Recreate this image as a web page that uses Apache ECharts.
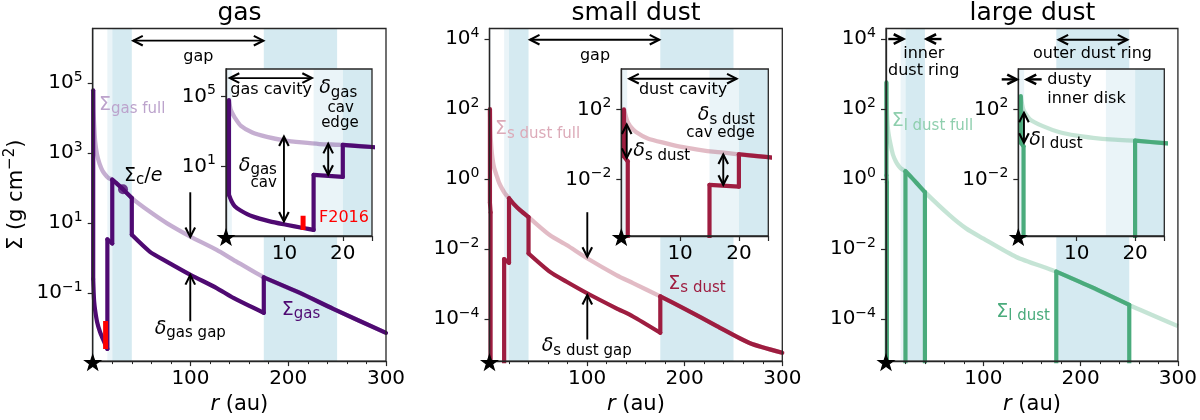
<!DOCTYPE html>
<html>
<head>
<meta charset="utf-8">
<script src="https://cdn.jsdelivr.net/npm/echarts@6.0.0/dist/echarts.min.js"></script>
<style>
html,body{margin:0;padding:0;background:#ffffff;}
#chart{width:1200px;height:420px;}
</style>
</head>
<body>
<div id="chart"></div>
<script>
// ---------------- data ----------------
// gas
const gasFullR   = [0.5, 0.8, 1.0, 1.5, 2.5, 4.5, 7, 10, 13, 16, 20, 25, 31, 40, 58.6, 75.7, 100, 126.8, 143.9, 175, 212, 246, 300];
const gasFullSig = [6.3e4, 1.8e4, 1.26e4, 6.3e3, 2.2e3, 890, 500, 316, 240, 195, 174, 132, 93, 52, 21, 10, 4.1, 1.7, 0.89, 0.28, 0.1, 0.035, 0.0072];
const gasR   = [0.5, 0.5, 1.0, 1.5, 2.5, 4.5, 7.5, 10.3, 13.2, 15, 15, 20, 20, 25, 31, 40, 40, 58.6, 75.7, 100, 126.8, 143.9, 175, 175, 212, 246, 300];
const gasSig = [6.3e4, 0.25, 0.1, 0.056, 0.032, 0.0148, 7.6e-3, 4.9e-3, 3.2e-3, 2.5e-3, 3.4, 2.6, 174, 132, 93, 52, 4.6, 1.5, 0.79, 0.33, 0.138, 0.072, 0.027, 0.28, 0.1, 0.035, 0.0072];
// small dust
const sdFullR   = [0.45, 1.0, 1.5, 2.5, 4.5, 7.5, 10, 13, 16, 20, 25, 31, 40, 62, 79, 100, 130, 147, 175, 199, 233, 267, 300];
const sdFullSig = [100, 22.4, 11.2, 5.2, 2.24, 1.2, 0.76, 0.52, 0.38, 0.28, 0.19, 0.13, 0.081, 0.0245, 0.0129, 5.4e-3, 1.78e-3, 1.05e-3, 4.4e-4, 2.0e-4, 6.2e-5, 2.0e-5, 1.07e-5];
const sdR   = [0.45, 0.45, 1.1, 1.1, 15, 15, 20, 20, 25, 31, 40, 40, 62, 79, 100, 130, 147, 175, 175, 199, 233, 267, 300];
const sdSig = [100, 0.21, 0.11, 1e-12, 1e-12, 5.1e-3, 4.0e-3, 0.28, 0.19, 0.13, 0.081, 7.4e-3, 2.2e-3, 1.15e-3, 5.4e-4, 2.0e-4, 1.17e-4, 4.0e-5, 4.4e-4, 2.0e-4, 6.2e-5, 2.0e-5, 1.07e-5];
// large dust
const ldFullR   = [0.43, 0.86, 2.0, 4.2, 7.1, 10, 12.8, 15.7, 20, 25, 31, 40, 65.5, 82.6, 99.6, 133.8, 175, 212, 250, 300];
const ldFullSig = [575, 100, 27, 11.2, 5.0, 3.2, 2.4, 1.95, 1.66, 1.2, 0.79, 0.42, 0.091, 0.038, 0.02, 5.9e-3, 2.24e-3, 7.9e-4, 2.5e-4, 6.2e-5];
const ldR   = [0.43, 0.43, 0.9, 0.9, 20, 20, 25, 31, 40, 40, 175, 175, 212, 250, 250];
const ldSig = [575, 1.26, 0.79, 1e-12, 1e-12, 1.66, 1.2, 0.79, 0.42, 1e-12, 1e-12, 2.24e-3, 7.9e-4, 2.5e-4, 1e-12];
// F2016 gas-cavity constraint and the Sigma_c/e point
const f2016R = [13.2, 13.2];
const f2016Sig = [0.0158, 0.0025];
const sigcR = [31];
const sigcSig = [93];
// shaded radial zones (au)
const bandStart = [0, 15, 20, 175];
const bandEnd   = [1, 20, 40, 250];
const bandDark  = [0, 0, 1, 1];
// tick values
const gasTicksMain  = [0.1, 10, 1e3, 1e5];
const gasTicksInset = [10, 1e5];
const dustTicksMain  = [1e-4, 1e-2, 1, 1e2, 1e4];
const dustTicksInset = [1e-2, 1e2];
const GAS_MIN = 1.12e-3, GAS_MAX = 3.7e6;
const DUST_MIN = 6.2e-6, DUST_MAX = 2.0e4;

// ---------------- styling ----------------
const AX = '#262626';
const FF = 'DejaVu Sans';
const BAND_DARK = '#d5eaf1', BAND_LIGHT = '#eaf4f8';
const C_GAS = '#4f0a72', C_GAS_L = 'rgba(79,10,114,0.33)', T_GAS_L = '#bca3cc';
const C_SD = '#9e1d40', C_SD_L = 'rgba(158,29,64,0.30)', T_SD_L = '#dcaab8';
const C_LD = '#4aab7c', C_LD_L = 'rgba(74,171,124,0.32)', T_LD_L = '#8fcfae';

const fnt = (sz, it) => (it ? 'italic ' : '') + sz + 'px "DejaVu Sans"';
function tok(sz, it, extra) {
  return Object.assign({fontSize: sz, fontFamily: FF, fontStyle: it ? 'italic' : 'normal', font: fnt(sz, it)}, extra || {});
}
const RICH = {
  b: tok(19, false, {lineHeight: 24}),
  d: tok(19, true, {lineHeight: 24}),
  i: tok(19, true, {lineHeight: 24}),
  s: tok(15, false, {lineHeight: 15, verticalAlign: 'bottom'})
};

// annotations (anchors in data coordinates of their own axes)
const annG = [
  {t:'frame'},
  {t:'arrow', a:[41.5, 1.66e6], b:[174.5, 1.66e6], h:'both'},
  {t:'text', p:[108, 5.6e5], s:'gap', al:'center', fs:16},
  {t:'text', p:[6.4, 2.45e4], s:'{b|Σ}{s|gas full}', al:'left', c:T_GAS_L},
  {t:'text', p:[32, 224], s:'{b|Σ}{s|c}{b|/}{i|e}', al:'left'},
  {t:'arrow', a:[99.8, 76], b:[99.8, 3.98], h:'end'},
  {t:'arrow', a:[99.8, 0.0155], b:[99.8, 0.324], h:'end'},
  {t:'text', p:[99.8, 9.3e-3], s:'{d|δ}{s|gas gap}', al:'center'},
  {t:'text', p:[193.3, 0.033], s:'{b|Σ}{s|gas}', al:'left', c:C_GAS},
  {t:'star', p:[0, GAS_MIN]}
];
const annGi = [
  {t:'frame'},
  {t:'arrow', a:[0.65, 1.12e6], b:[14.7, 1.12e6], h:'both'},
  {t:'text', p:[7.72, 2.4e5], s:'gas cavity', al:'center', fs:16},
  {t:'text', p:[19.23, 3.0e5], s:'{d|δ}{s|gas}', al:'center'},
  {t:'text', p:[19.65, 2.19e4], s:'cav', al:'center', fs:15},
  {t:'text', p:[19.5, 2.88e3], s:'edge', al:'center', fs:15},
  {t:'arrow', a:[17.5, 200], b:[17.5, 3.47], h:'both'},
  {t:'arrow', a:[9.92, 525], b:[9.92, 7.6e-3], h:'both'},
  {t:'text', p:[8.72, 11.5], s:'{d|δ}{s|gas}', al:'right'},
  {t:'text', p:[8.72, 1.17], s:'cav', al:'right', fs:15},
  {t:'text', p:[20.2, 0.0117], s:'F2016', al:'center', fs:16, c:'#ff0000'},
  {t:'star', p:[0, GAS_MIN]}
];
const annS = [
  {t:'frame'},
  {t:'arrow', a:[41.5, 9550], b:[173.9, 9550], h:'both'},
  {t:'text', p:[108.1, 3310], s:'gap', al:'center', fs:16},
  {t:'text', p:[5.6, 26.3], s:'{b|Σ}{s|s dust full}', al:'left', c:T_SD_L},
  {t:'arrow', a:[100.2, 0.112], b:[100.2, 6.0e-3], h:'end'},
  {t:'arrow', a:[100.2, 2.57e-5], b:[100.2, 4.8e-4], h:'end'},
  {t:'text', p:[99.6, 1.66e-5], s:'{d|δ}{s|s dust gap}', al:'center'},
  {t:'text', p:[183.2, 1e-3], s:'{b|Σ}{s|s dust}', al:'left', c:C_SD},
  {t:'star', p:[0, DUST_MIN]}
];
const annSi = [
  {t:'frame'},
  {t:'arrow', a:[1.36, 5620], b:[19.6, 5620], h:'both'},
  {t:'text', p:[10.5, 1230], s:'dust cavity', al:'center', fs:16},
  {t:'text', p:[22.7, 46.8], s:'{d|δ}{s|s dust}', al:'right'},
  {t:'text', p:[22.7, 4.68], s:'cav edge', al:'right', fs:15},
  {t:'arrow', a:[17.34, 0.27], b:[17.34, 5.1e-3], h:'both'},
  {t:'arrow', a:[0.92, 13.8], b:[0.92, 0.174], h:'both'},
  {t:'text', p:[2.04, 0.4], s:'{d|δ}{s|s dust}', al:'left'},
  {t:'star', p:[0, DUST_MIN]}
];
const annL = [
  {t:'frame'},
  {t:'arrow', a:[2.35, 1e4], b:[17.7, 1e4], h:'end', w:2.4},
  {t:'arrow', a:[57, 1e4], b:[41.7, 1e4], h:'end', w:2.4},
  {t:'text', p:[38.9, 3720], s:'inner', al:'center', fs:16},
  {t:'text', p:[38.7, 1200], s:'dust ring', al:'center', fs:16},
  {t:'arrow', a:[177.4, 9550], b:[248, 9550], h:'both'},
  {t:'text', p:[212.2, 3800], s:'outer dust ring', al:'center', fs:16},
  {t:'text', p:[5.8, 44.7], s:'{b|Σ}{s|l dust full}', al:'left', c:T_LD_L},
  {t:'text', p:[113.3, 1.58e-4], s:'{b|Σ}{s|l dust}', al:'left', c:C_LD},
  {t:'star', p:[0, DUST_MIN]}
];
const annLi = [
  {t:'frame'},
  {t:'arrow', a:[-2.84, 5130], b:[-0.27, 5130], h:'end', w:2.4},
  {t:'arrow', a:[4.0, 5130], b:[1.44, 5130], h:'end', w:2.4},
  {t:'text', p:[4.96, 4700], s:'dusty', al:'left', fs:16},
  {t:'text', p:[4.96, 398], s:'inner disk', al:'left', fs:16},
  {t:'arrow', a:[0.97, 64.6], b:[0.97, 1.26], h:'both'},
  {t:'text', p:[1.88, 1.82], s:'{d|δ}{s|l dust}', al:'left'},
  {t:'star', p:[0, DUST_MIN]}
];

// ---------------- builders ----------------
const zip = (a, b) => a.map((v, i) => [v, b[i]]);

// split a stepped profile into smooth runs and vertical jumps
function pieces(r, s) {
  const out = [];
  let cur = [[r[0], s[0]]];
  for (let i = 1; i < r.length; i++) {
    if (r[i] === r[i - 1]) {
      if (cur.length > 1) out.push(cur);
      out.push([[r[i - 1], s[i - 1]], [r[i], s[i]]]);
      cur = [[r[i], s[i]]];
    } else {
      cur.push([r[i], s[i]]);
    }
  }
  if (cur.length > 1) out.push(cur);
  return out;
}

function supLabel(v) {
  const e = Math.round(Math.log10(v));
  return '{b|10}{p|' + (e < 0 ? '\u2212' + (-e) : String(e)) + '}';
}
const LABEL_RICH = {
  b: {fontSize: 20, fontFamily: FF, lineHeight: 26, color: '#000'},
  p: {fontSize: 14, fontFamily: FF, lineHeight: 13, verticalAlign: 'top', color: '#000'}
};

function makeX(gi, inset) {
  return {
    type: 'value', gridIndex: gi, min: 0, max: inset ? 25 : 300, interval: inset ? 10 : 100, z: inset ? 15 : 6,
    axisLine: {show: true, onZero: false, lineStyle: {color: AX, width: 1.3}},
    axisTick: {show: true, length: 5, lineStyle: {color: AX, width: 1.2}},
    minorTick: {show: !inset, splitNumber: 5, length: 3, lineStyle: {color: AX, width: 1}},
    splitLine: {show: false}, minorSplitLine: {show: false},
    axisLabel: {fontSize: 20, fontFamily: FF, color: '#000', margin: 8,
      formatter: v => (v === 0 || v === 25) ? '' : String(v)},
    name: inset ? '' : '{i|r} (au)', nameLocation: 'middle', nameGap: 31,
    nameTextStyle: {fontSize: 21, fontFamily: FF, color: '#000',
      rich: {i: {fontSize: 21, fontFamily: FF, fontStyle: 'italic', color: '#000'}}}
  };
}
function makeY(gi, min, max, ticks, inset, withName) {
  const o = {
    type: 'log', logBase: 10, gridIndex: gi, min: min, max: max, z: inset ? 15 : 6,
    axisLine: {show: true, onZero: false, lineStyle: {color: AX, width: 1.3}},
    axisTick: {show: true, length: 5, customValues: ticks, lineStyle: {color: AX, width: 1.2}},
    minorTick: {show: false}, splitLine: {show: false}, minorSplitLine: {show: false},
    axisLabel: {customValues: ticks, margin: 10, formatter: supLabel, rich: LABEL_RICH,
      fontSize: 20, fontFamily: FF, color: '#000'}
  };
  if (withName) {
    o.name = 'Σ (g cm{p|\u22122})';
    o.nameLocation = 'middle';
    o.nameGap = 62;
    o.nameRotate = 90;
    o.nameTextStyle = {fontSize: 21, fontFamily: FF, color: '#000', lineHeight: 28,
      rich: {p: {fontSize: 15, fontFamily: FF, lineHeight: 15, verticalAlign: 'top', color: '#000'}}};
  }
  return o;
}

function bandSeries(gi, z) {
  return {
    type: 'custom', coordinateSystem: 'cartesian2d', xAxisIndex: gi, yAxisIndex: gi, z: z,
    silent: true, animation: false,
    data: bandStart.map((s, i) => [s, bandEnd[i]]),
    renderItem: function (params, api) {
      const cs = params.coordSys;
      const i = params.dataIndex;
      let x0 = api.coord([bandStart[i], 1])[0];
      let x1 = api.coord([bandEnd[i], 1])[0];
      x0 = Math.max(x0, cs.x);
      x1 = Math.min(x1, cs.x + cs.width);
      if (!(x1 > x0)) return null;
      return {type: 'rect', shape: {x: x0, y: cs.y, width: x1 - x0, height: cs.height},
        style: {fill: bandDark[i] ? BAND_DARK : BAND_LIGHT}};
    }
  };
}

function headEl(tip, from, w) {
  const dx = tip[0] - from[0], dy = tip[1] - from[1];
  const len = Math.hypot(dx, dy) || 1;
  const ux = dx / len, uy = dy / len;
  const L = 9.5, W = 4.8;
  const bx = tip[0] - ux * L, by = tip[1] - uy * L;
  return {type: 'polyline', shape: {points: [[bx - uy * W, by + ux * W], [tip[0], tip[1]], [bx + uy * W, by - ux * W]]},
    style: {stroke: '#000', lineWidth: w + 0.2, fill: null, lineJoin: 'miter', lineCap: 'butt'}};
}
function starPoints(cx, cy, R) {
  const pts = [];
  for (let k = 0; k < 10; k++) {
    const rad = (k % 2 === 0) ? R : R * 0.4;
    const ang = -Math.PI / 2 + k * Math.PI / 5;
    pts.push([cx + rad * Math.cos(ang), cy + rad * Math.sin(ang)]);
  }
  return pts;
}

function annSeries(gi, list, z) {
  return {
    type: 'custom', coordinateSystem: 'cartesian2d', xAxisIndex: gi, yAxisIndex: gi, z: z,
    silent: true, animation: false, clip: false,
    data: list.map(() => [1, 1]),
    renderItem: function (params, api) {
      const a = list[params.dataIndex];
      const cs = params.coordSys;
      if (a.t === 'frame') {
        return {type: 'rect', shape: {x: cs.x, y: cs.y, width: cs.width, height: cs.height},
          style: {fill: null, stroke: AX, lineWidth: 1.3}};
      }
      if (a.t === 'star') {
        const c = api.coord(a.p);
        return {type: 'polygon', z2: 10, shape: {points: starPoints(c[0], c[1] + 2, 8.2)},
          style: {fill: '#000', stroke: '#000', lineWidth: 1.2, lineJoin: 'miter'}};
      }
      if (a.t === 'arrow') {
        const p1 = api.coord(a.a), p2 = api.coord(a.b);
        const w = a.w || 1.9;
        const ch = [{type: 'line', shape: {x1: p1[0], y1: p1[1], x2: p2[0], y2: p2[1]},
          style: {stroke: '#000', lineWidth: w}}];
        if (a.h === 'end' || a.h === 'both') ch.push(headEl(p2, p1, w));
        if (a.h === 'start' || a.h === 'both') ch.push(headEl(p1, p2, w));
        return {type: 'group', children: ch};
      }
      const p = api.coord(a.p);
      const fs = a.fs || 19;
      return {type: 'text', x: p[0], y: p[1],
        style: {text: a.s, rich: RICH, fill: a.c || '#000', font: fnt(fs, false), fontSize: fs, fontFamily: FF,
          align: a.al, verticalAlign: 'middle', textAlign: a.al, textVerticalAlign: 'middle'}};
    }
  };
}

function lineSeries(gi, data, color, width, z, smooth, cap) {
  return {type: 'line', xAxisIndex: gi, yAxisIndex: gi, data: data, symbol: 'none', showSymbol: false,
    z: z, silent: true, animation: false, clip: true, emphasis: {disabled: true},
    smooth: smooth || false,
    lineStyle: {color: color, width: width, cap: cap || 'butt', join: 'round'}};
}

// ---------------- panels ----------------
const panels = [
  {m: 0, n: 1, full: zip(gasFullR, gasFullSig), dark: pieces(gasR, gasSig), c: C_GAS, cl: C_GAS_L,
   ymin: GAS_MIN, ymax: GAS_MAX, tm: gasTicksMain, ti: gasTicksInset, am: annG, ai: annGi},
  {m: 2, n: 3, full: zip(sdFullR, sdFullSig), dark: pieces(sdR, sdSig), c: C_SD, cl: C_SD_L,
   ymin: DUST_MIN, ymax: DUST_MAX, tm: dustTicksMain, ti: dustTicksInset, am: annS, ai: annSi},
  {m: 4, n: 5, full: zip(ldFullR, ldFullSig), dark: pieces(ldR, ldSig), c: C_LD, cl: C_LD_L,
   ymin: DUST_MIN, ymax: DUST_MAX, tm: dustTicksMain, ti: dustTicksInset, am: annL, ai: annLi}
];

const grid = [
  {left: 92.7, top: 28.5, width: 293.3, height: 334.8},
  {left: 226, top: 69, width: 146, height: 167, show: true, backgroundColor: '#ffffff', borderWidth: 0, z: 10},
  {left: 489.5, top: 28.5, width: 292.8, height: 334.8},
  {left: 621.3, top: 69, width: 147, height: 167, show: true, backgroundColor: '#ffffff', borderWidth: 0, z: 10},
  {left: 886, top: 28.5, width: 293, height: 334.8},
  {left: 1018.3, top: 69, width: 146, height: 167, show: true, backgroundColor: '#ffffff', borderWidth: 0, z: 10}
];
const xAxis = [], yAxis = [], series = [];
panels.forEach((P, k) => {
  xAxis[P.m] = makeX(P.m, false);
  xAxis[P.n] = makeX(P.n, true);
  yAxis[P.m] = makeY(P.m, P.ymin, P.ymax, P.tm, false, k === 0);
  yAxis[P.n] = makeY(P.n, P.ymin, P.ymax, P.ti, true, false);
  [[P.m, 0, P.am], [P.n, 10, P.ai]].forEach(([gi, dz, ann]) => {
    series.push(bandSeries(gi, 1 + dz));
    series.push(lineSeries(gi, P.full, P.cl, 4.3, 2 + dz, 0.22));
    P.dark.forEach(seg => {
      series.push(lineSeries(gi, seg, P.c, 4.2, 3 + dz, seg.length > 2 ? 0.22 : false, 'round'));
    });
    if (k === 0) {
      series.push(lineSeries(gi, zip(f2016R, f2016Sig), '#ff0000', 5, 4 + dz));
      if (dz === 0) {
        series.push({type: 'scatter', xAxisIndex: gi, yAxisIndex: gi, data: zip(sigcR, sigcSig),
          symbol: 'circle', symbolSize: 10, itemStyle: {color: C_GAS}, z: 5, silent: true, animation: false});
      }
    }
    series.push(annSeries(gi, ann, 20 + dz));
  });
});

const titles = [['gas', 239.5], ['small dust', 636], ['large dust', 1032.5]].map(([t, x]) => ({
  type: 'text', x: x, y: 13, z: 50,
  style: {text: t, font: '25px "DejaVu Sans"', fill: '#000', align: 'center', verticalAlign: 'middle',
    textAlign: 'center', textVerticalAlign: 'middle'}
}));

const chart = echarts.init(document.getElementById('chart'), null, {renderer: 'canvas'});
chart.setOption({
  animation: false,
  backgroundColor: '#ffffff',
  textStyle: {fontFamily: FF},
  grid: grid,
  xAxis: xAxis,
  yAxis: yAxis,
  series: series,
  graphic: titles
});
</script>
</body>
</html>
